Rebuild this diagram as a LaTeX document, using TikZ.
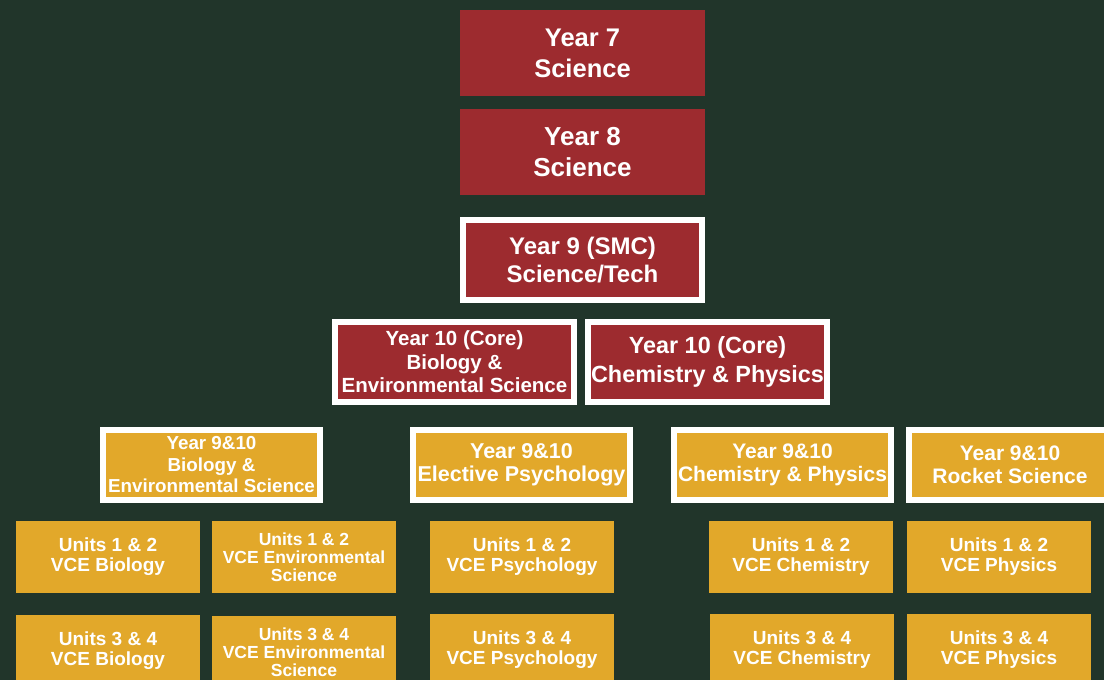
\documentclass[tikz,border=0pt]{standalone}
\usepackage{fontspec}
\setmainfont{Liberation Sans}
\definecolor{bg}{RGB}{33,53,42}
\definecolor{redc}{RGB}{157,43,47}
\definecolor{yel}{RGB}{226,168,42}
\tikzset{
  box/.style={rectangle, inner sep=0pt, align=center, text=white},
  redbox/.style={box, fill=redc},
  yelbox/.style={box, fill=yel},
  framed/.style={draw=white, line width=6pt},
  fs/.style 2 args={font={\fontsize{#1}{#2}\selectfont\bfseries}},
}
\begin{document}
\begin{tikzpicture}[x=1pt,y=-1pt]
\useasboundingbox (0,0) rectangle (1104,680);
\clip (0,0) rectangle (1104,680);
\fill[bg] (-5,-5) rectangle (1110,690);
% red column
\node[redbox, minimum width=245pt, minimum height=86pt, fs={25.5}{31}] (y7) at (582.5,53) {Year 7\\Science};
\node[redbox, minimum width=245pt, minimum height=86pt, fs={26}{31}] (y8) at (582.5,152) {Year 8\\Science};
\node[redbox, framed, minimum width=239pt, minimum height=80pt, fs={24}{28}] (y9) at (582.5,260) {Year 9 (SMC)\\Science/Tech};
\node[redbox, framed, minimum width=239pt, minimum height=80pt, fs={20.5}{23.5}] (y10a) at (454.5,362) {Year 10 (Core)\\Biology \&\\Environmental Science};
\node[redbox, framed, minimum width=239pt, minimum height=80pt, fs={23.4}{29}] (y10b) at (707.5,362) {Year 10 (Core)\\Chemistry \& Physics};
% yellow electives
\node[yelbox, framed, minimum width=217pt, minimum height=70pt, fs={18.8}{21.5}] (eb) at (211.5,465) {Year 9\&10\\Biology \&\\Environmental Science};
\node[yelbox, framed, minimum width=217pt, minimum height=70pt, fs={21.5}{23}] (ep) at (521.5,465) {Year 9\&10\\Elective Psychology};
\node[yelbox, framed, minimum width=217pt, minimum height=70pt, fs={21}{23}] (ec) at (782.5,465) {Year 9\&10\\Chemistry \& Physics};
\node[yelbox, framed, minimum width=202pt, minimum height=70pt, fs={21}{23}] (er) at (1010,465) {Year 9\&10\\Rocket Science};
% VCE units
\tikzset{unit/.style={yelbox, minimum width=184pt, minimum height=72pt}}
\node[unit, fs={19}{20}] (ub1) at (108,557) {Units 1 \& 2\\VCE Biology};
\node[unit, fs={17.5}{17.8}] (ue1) at (304,557) {Units 1 \& 2\\VCE Environmental\\Science};
\node[unit, fs={19}{20}] (up1) at (522,557) {Units 1 \& 2\\VCE Psychology};
\node[unit, fs={19}{20}] (uc1) at (801,557) {Units 1 \& 2\\VCE Chemistry};
\node[unit, fs={19}{20}] (uph1) at (999,557) {Units 1 \& 2\\VCE Physics};
\node[unit, fs={19}{20}] (ub2) at (108,651) {Units 3 \& 4\\VCE Biology};
\node[unit, fs={17.5}{17.8}] (ue2) at (304,652) {Units 3 \& 4\\VCE Environmental\\Science};
\node[unit, fs={19}{20}] (up2) at (522,650) {Units 3 \& 4\\VCE Psychology};
\node[unit, fs={19}{20}] (uc2) at (802,650) {Units 3 \& 4\\VCE Chemistry};
\node[unit, fs={19}{20}] (uph2) at (999,650) {Units 3 \& 4\\VCE Physics};
\end{tikzpicture}
\end{document}
